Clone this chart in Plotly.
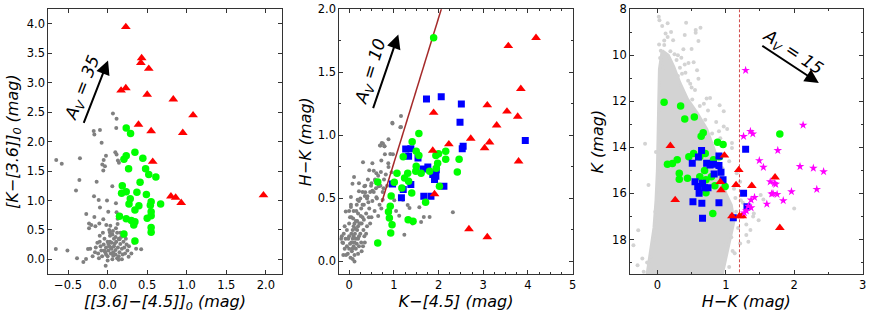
import plotly.graph_objects as go

# ---------------- Panel 1 : [K-[3.6]]0 vs [[3.6]-[4.5]]0 ----------------
p1_red_x = [0.23, 0.43, 0.42, 0.52, 0.17, 0.23, 0.50, 0.83, 1.08, 0.39, 0.55, 0.95, 0.57, 0.80, 0.86, 0.93, 1.97]
p1_red_y = [3.95, 3.42, 3.34, 3.24, 2.87, 2.91, 2.80, 2.72, 2.45, 2.29, 2.18, 2.15, 1.66, 1.07, 1.05, 0.96, 1.09]

p1_green_x = [0.235, 0.29, 0.345, 0.235, 0.206, 0.445, 0.265, 0.48, 0.52, 0.61, 0.41, 0.185, 0.235, 0.176,
              0.37, 0.49, 0.286, 0.27, 0.55, 0.67, 0.54, 0.395, 0.345, 0.55, 0.55, 0.50, 0.15, 0.235,
              0.30, 0.345, 0.33, 0.55, 0.55, 0.206, 0.345]
p1_green_y = [2.23, 2.14, 1.82, 1.76, 1.70, 1.72, 1.54, 1.54, 1.44, 1.40, 1.31, 1.25, 1.15, 1.125,
              1.14, 1.10, 1.03, 0.94, 0.98, 0.94, 0.92, 0.91, 0.84, 0.81, 0.74, 0.70, 0.73, 0.69,
              0.66, 0.64, 0.585, 0.54, 0.46, 0.43, 0.31]

p1_grey_x = [0.067, 0.113, -0.176, -0.097, -0.168, 0.109, -0.076, 0.097, 0.113, -0.021, -0.05, 0.13, 0.143,
             -0.067, -0.034, -0.055, -0.35, -0.65, -0.58, -0.357, -0.139, -0.40, 0.059, -0.172, -0.113,
             -0.008, 0.105, -0.097, -0.27, 0.008, 0.113, -0.168, 0.126, -0.055, -0.235, -0.206, -0.105,
             -0.155, -0.235, -0.017, 0.034, 0.126, 0.105, 0.067, 0.029,
             -0.655, -0.508, -0.387, -0.307, -0.273, -0.248, -0.22, -0.025, 0.424, 0.139, 0.265,
             -0.15, -0.12, -0.10, -0.08, -0.07, -0.05, -0.04, -0.03, -0.02, 0.00, 0.00, 0.01, 0.02, 0.03,
             0.04, 0.05, 0.05, 0.06, 0.07, 0.08, 0.08, 0.10, 0.10, 0.11, 0.12, 0.13, 0.14, 0.15, 0.16,
             0.17, 0.18, 0.19, 0.20, 0.21, 0.22, 0.24, -0.10, -0.13, 0.02, 0.06, -0.06, 0.12, 0.00,
             -0.02, 0.03, 0.09, 0.14, -0.09, 0.04, 0.07, 0.10, 0.16, 0.20, 0.25, -0.04, 0.18, -0.16, 0.23,
             -0.11, 0.01, 0.15, 0.27, 0.30, 0.33, -0.19, 0.36]
p1_grey_y = [2.48, 2.39, 2.18, 2.20, 2.12, 2.23, 1.98, 1.82, 1.78, 1.76, 1.69, 1.68, 1.64,
             1.61, 1.58, 1.51, 1.72, 1.69, 1.625, 1.35, 1.32, 1.17, 1.24, 1.07, 1.01,
             1.00, 0.955, 0.88, 0.77, 0.81, 0.80, 0.72, 0.69, 0.68, 0.61, 0.585, 0.61,
             0.56, 0.53, 0.585, 0.57, 0.60, 0.53, 0.48, 0.455,
             0.176, 0.148, 0.017, -0.045, 0.006, 0.176, 0.18, -0.108, 0.17, -0.006, 0.045,
             0.20, 0.10, 0.30, 0.15, 0.05, 0.25, 0.35, 0.12, 0.20, 0.05, 0.30, 0.15, 0.22, 0.40,
             0.10, 0.18, 0.28, 0.00, 0.12, 0.22, 0.35, 0.08, 0.16, 0.30, 0.45, 0.20, 0.05, 0.12, 0.26,
             0.38, 0.18, 0.08, 0.30, 0.20, 0.10, 0.25, 0.40, 0.28, 0.50, 0.42, 0.45, 0.02, -0.02,
             0.08, 0.30, 0.27, 0.35, 0.22, 0.20, 0.06, 0.38, 0.45, 0.40, 0.15, 0.15, 0.00, 0.12, 0.35,
             0.02, 0.26, 0.34, 0.22, 0.10, 0.28, 0.05, 0.18]

p1_arrow_tail = (-0.34, 2.19)
p1_arrow_head = (0.005, 3.38)
p1_label = "<i>A<sub>V</sub> = 35</i>"
p1_label_pos = (-0.31, 2.90)

# ---------------- Panel 2 : H-K vs K-[4.5] ----------------
p2_red_x = [4.18, 3.56, 3.84, 3.09, 3.53, 3.77, 1.89, 3.30, 2.72, 3.14, 3.03, 2.23, 1.87, 3.79, 1.91, 2.68, 3.09]
p2_red_y = [1.775, 1.71, 1.37, 1.24, 1.19, 1.15, 1.18, 1.08, 0.975, 0.945, 0.90, 0.93, 0.88, 0.795, 0.535, 0.257, 0.193]

p2_blue_x = [1.73, 2.06, 2.51, 2.48, 2.55, 2.53, 3.94, 1.265, 1.38, 1.33, 1.54, 1.65, 1.76, 1.95, 1.94,
             1.91, 1.38, 0.97, 1.21, 1.17, 1.67, 1.83, 2.12, 1.87]
p2_blue_y = [1.29, 1.306, 1.25, 1.105, 0.914, 0.895, 0.96, 0.893, 0.895, 0.834, 0.82, 0.734, 0.75, 0.728, 0.675,
             0.65, 0.61, 0.615, 0.57, 0.506, 0.517, 0.517, 0.596, 0.69]

p2_green_x = [1.89, 1.56, 1.41, 1.50, 1.56, 1.21, 2.16, 2.00, 1.94, 2.16, 2.46, 1.98, 1.95, 1.50, 1.61, 1.49,
              1.31, 1.07, 1.80, 2.42, 1.24, 1.33, 1.01, 0.64, 2.02, 1.18, 0.94, 1.40, 0.92, 0.88, 0.90,
              0.96, 0.93, 1.32, 1.43, 1.71, 0.64]
p2_green_y = [1.775, 1.015, 0.95, 0.874, 0.84, 0.83, 0.874, 0.855, 0.84, 0.81, 0.81, 0.78, 0.74, 0.755, 0.70, 0.715,
              0.70, 0.70, 0.715, 0.71, 0.662, 0.636, 0.628, 0.63, 0.596, 0.583, 0.52, 0.543, 0.437, 0.395, 0.344,
              0.291, 0.225, 0.33, 0.318, 0.469, 0.146]

p2_grey_x = [1.16, 0.966, 1.145, 0.88, 0.756, 0.70, 0.79, 0.98, 0.97, 1.16, 0.73, 0.69, 0.79, 0.92, 0.31, 0.52,
             0.876, 0.45, 0.71, 0.61, 0.82, 0.95, 0.58, 0.11, 0.075, 0.22, 0.34, 0.49, 0.66, 0.77, 0.22, 0.36,
             0.52, 0.04, 0.19, 0.41, 0.61, 0.75, 1.01, 1.20, 1.31, 1.35, 1.57, 0.04, -0.075, 1.12, 1.67, 1.80,
             2.32, 1.61, 1.235, 0.95, -0.135, -0.165,
             -0.15, -0.12, -0.10, -0.08, -0.05, -0.05, -0.03, 0.00, 0.00, 0.02, 0.03, 0.05, 0.05, 0.07, 0.08,
             0.10, 0.10, 0.12, 0.12, 0.13, 0.15, 0.15, 0.17, 0.18, 0.20, 0.20, 0.22, 0.23, 0.25, 0.25, 0.27,
             0.28, 0.30, 0.30, 0.32, 0.33, 0.35, 0.36, 0.38, 0.40, 0.40, 0.42, 0.45, 0.47, 0.50, 0.50, 0.52,
             0.55, 0.57, 0.60, 0.62, 0.65, 0.68, 0.70, 0.72, 0.75, 0.78, 0.80, 0.85, 0.88,
             0.05, 0.10, 0.15, 0.08, 0.18, 0.12, 0.20, 0.25, -0.02, 0.00, 0.06, 0.14, 0.22, 0.28, 0.10, 0.16,
             0.22, 0.30, 0.35, -0.10, -0.07, 0.04, 0.02, 0.08, 0.20, 0.27, 0.33, 0.38, 0.44, 0.47, 0.55, 0.58,
             -0.18, -0.13, 0.00, 0.09, 0.17, 0.26, 0.34, 0.43, 0.12, 0.31, 0.65, 0.72, 1.05, 1.42]
p2_grey_y = [1.155, 1.10, 1.065, 0.97, 0.935, 0.92, 0.914, 0.85, 1.094, 1.067, 0.94, 0.92, 0.914, 0.853, 0.787, 0.78,
             0.779, 0.723, 0.71, 0.70, 0.69, 0.707, 0.64, 0.67, 0.617, 0.62, 0.596, 0.60, 0.596, 0.58, 0.556, 0.548,
             0.56, 0.511, 0.49, 0.517, 0.51, 0.49, 0.485, 0.49, 0.448, 0.424, 0.43, 0.432, 0.397, 0.363, 0.352, 0.352,
             0.39, 0.313, 0.212, 0.305, 0.146, 0.20,
             0.15, 0.22, 0.10, 0.18, 0.25, 0.12, 0.06, 0.20, 0.30, 0.14, 0.03, 0.22, 0.35, 0.10, 0.18,
             0.28, 0.40, 0.05, 0.15, 0.22, 0.32, 0.10, 0.45, 0.25, 0.18, 0.38, 0.12, 0.30, 0.50, 0.22, 0.42,
             0.08, 0.35, 0.55, 0.25, 0.45, 0.15, 0.60, 0.38, 0.50, 0.28, 0.65, 0.42, 0.55, 0.35, 0.62, 0.48,
             0.72, 0.40, 0.58, 0.50, 0.68, 0.45, 0.60, 0.80, 0.55, 0.65, 0.85, 0.60, 0.75,
             0.15, 0.20, 0.18, 0.25, 0.32, 0.30, 0.28, 0.30, 0.18, 0.10, 0.08, 0.26, 0.20, 0.30, 0.12, 0.40,
             0.48, 0.45, 0.52, 0.28, 0.05, 0.45, 0.35, 0.02, 0.06, 0.15, 0.33, 0.22, 0.35, 0.30, 0.55, 0.65,
             0.18, 0.05, 0.40, 0.34, 0.14, 0.36, 0.20, 0.47, 0.00, 0.12, 0.36, 0.42, 0.40, 0.30]

p2_line_x = [0.73, 2.12]
p2_line_y = [0.47, 2.07]

p2_arrow_tail = (0.47, 1.147)
p2_arrow_head = (1.10, 1.80)
p2_label = "<i>A<sub>V</sub> = 10</i>"
p2_label_pos = (0.49, 1.50)

# ---------------- Panel 3 : K vs H-K ----------------
p3_star_x = [1.29, 2.13, 1.26, 1.36, 1.395, 1.76, 1.49, 1.55, 2.085, 2.28, 2.43, 1.65, 1.71, 1.69, 1.67,
             1.75, 1.96, 2.33, 1.42, 1.37, 1.84, 1.60, 1.33, 1.37, 1.30, 1.27, 1.73]
p3_star_y = [10.65, 13.03, 13.52, 13.30, 13.41, 14.13, 14.57, 14.86, 14.83, 14.90, 15.05, 15.49, 15.56, 16.00, 16.02,
             16.04, 15.92, 15.82, 16.17, 16.28, 16.31, 16.46, 16.55, 16.62, 16.75, 16.84, 15.60]

p3_green_x = [0.098, 0.34, 0.40, 0.54, 1.79, 0.67, 0.64, 0.88, 0.96, 0.147, 0.22, 0.29, 0.46, 0.53, 0.62, 0.70,
              0.82, 0.91, 0.32, 0.32, 0.44, 0.62, 0.69, 0.71, 0.79, 0.84, 0.99, 0.71, 0.81]
p3_green_y = [12.04, 12.20, 12.77, 12.68, 13.42, 13.36, 13.52, 13.77, 13.87, 14.73, 14.70, 14.54, 14.40, 14.26, 14.40, 14.26,
              14.54, 14.40, 15.12, 15.38, 15.34, 15.27, 15.00, 15.41, 15.27, 15.66, 15.70, 15.97, 16.87]

p3_blue_x = [1.29, 0.646, 0.60, 0.51, 0.72, 0.77, 0.82, 0.90, 0.90, 0.83, 0.93, 0.96, 0.55, 0.59, 0.66, 0.69,
             0.74, 0.61, 0.52, 0.65, 0.90, 1.26, 1.31, 1.11, 0.66]
p3_blue_y = [14.08, 14.13, 14.42, 14.69, 14.69, 14.76, 14.73, 14.79, 14.37, 15.15, 15.08, 15.41, 15.49, 15.70, 15.56, 15.75,
             15.75, 15.99, 16.36, 16.43, 16.40, 15.99, 16.58, 17.06, 17.08]

p3_red_x = [0.19, 0.98, 1.19, 1.15, 1.38, 1.72, 0.93, 0.92, 0.26, 1.79, 1.09, 1.20, 1.24]
p3_red_y = [13.93, 14.35, 14.98, 15.63, 15.67, 15.30, 15.86, 15.50, 16.28, 17.49, 16.98, 16.98, 16.98]

# envelope of the densely populated field-star region
p3_field_env_x = [0.07, 0.03, 0.02, 0.01, 0.00, -0.02, -0.05, -0.10, -0.15,
                  0.95, 1.00, 1.06, 1.12, 1.08, 1.00, 0.93, 0.82, 0.72, 0.58, 0.44, 0.33, 0.24, 0.16, 0.07]
p3_field_env_y = [9.8, 10.6, 12.0, 13.5, 15.0, 16.3, 17.5, 18.5, 19.5,
                  19.5, 18.8, 18.0, 17.2, 16.5, 16.0, 15.0, 14.0, 13.2, 12.5, 11.9, 11.2, 10.5, 10.0, 9.8]

p3_field_x = [0.02, 0.03, 0.15, 0.42, 0.07, 0.63, 0.56, 0.12, 0.20, 0.23, 0.10, 0.40, 0.025, 0.60, 0.56, 0.19,
              0.38, 0.50, 0.04, 0.455, 0.53, 0.33, 0.09, 0.58, 0.41, 0.60, 0.48, 0.72, 0.77, 0.91, 0.97, 0.74,
              0.51, -0.18, -0.13, -0.28, -0.35, -0.29, -0.22, -0.09, 0.97, 1.02, 0.90, 1.09, 1.09, 1.16, 1.21,
              1.51, 1.55, 2.00, 1.41, 1.48, 1.36, 1.21, 1.13, 1.30, 0.30, 0.28, 0.86, 0.92, 1.05, 1.25, 1.30,
              -0.05, -0.10, 1.00, 1.08, 0.68, 0.70, 0.55, 0.45, 0.36, 0.30, 0.25, 1.12, 1.28, 1.33, 1.40,
              -0.20, -0.15, 0.15, 0.10, 0.05, 0.35, 1.15, 1.18, 1.10, 1.22, 1.05, 0.95, 0.88, 0.85, 0.62,
              0.50, 0.40, -0.03, -0.06, -0.12, -0.02, 1.02, 1.14, 0.80]
p3_field_y = [8.32, 8.47, 8.61, 8.58, 8.73, 8.80, 8.90, 9.05, 8.99, 9.34, 9.35, 9.12, 9.53, 9.38, 9.02, 9.82,
              9.74, 9.72, 10.11, 10.33, 10.30, 10.54, 10.54, 10.65, 10.76, 11.02, 11.23, 11.87, 11.85, 12.17, 12.43, 12.40,
              11.92, 13.84, 15.63, 17.60, 18.25, 19.12, 18.83, 18.76, 13.09, 13.20, 13.30, 13.81, 14.03, 15.12, 15.49,
              16.07, 16.26, 16.65, 16.87, 17.16, 17.59, 18.17, 18.60, 17.35, 10.00, 10.20, 12.90, 13.60, 14.60, 16.40, 17.80,
              19.30, 18.90, 18.20, 17.90, 12.10, 12.80, 11.50, 11.10, 10.80, 10.90, 9.95, 15.80, 16.00, 18.10, 17.00,
              19.40, 19.00, 9.20, 9.55, 9.80, 10.10, 16.80, 17.50, 18.50, 16.30, 19.20, 14.90, 13.70, 14.30, 12.20,
              11.40, 10.40, 16.80, 18.00, 19.10, 14.20, 15.70, 16.20, 13.40]

p3_cut_x = [1.2, 1.2]
p3_cut_y = [8.0, 19.5]

p3_arrow_tail = (1.49, 9.50)
p3_arrow_head = (2.36, 11.20)
p3_label = "<i>A<sub>V</sub> = 15</i>"
p3_label_pos = (1.97, 9.88)

# ---------------- Build the figure ----------------
RED, GREEN, BLUE, MAG = "#ff0000", "#00ff00", "#0000ff", "#ff00ff"
GREY, LGREY = "#808080", "#d3d3d3"

fig = go.Figure()


def pts(x, y, xa, ya, color, symbol, size):
    fig.add_trace(go.Scatter(x=x, y=y, xaxis=xa, yaxis=ya, mode="markers",
                             marker=dict(color=color, symbol=symbol, size=size, line=dict(width=0)),
                             showlegend=False, hoverinfo="skip", cliponaxis=True))


# panel 1
pts(p1_grey_x, p1_grey_y, "x", "y", GREY, "circle", 4)
pts(p1_green_x, p1_green_y, "x", "y", GREEN, "circle", 7.5)
pts(p1_red_x, p1_red_y, "x", "y", RED, "triangle-up", 8.5)

# panel 2
pts(p2_grey_x, p2_grey_y, "x2", "y2", GREY, "circle", 4)
fig.add_trace(go.Scatter(x=p2_line_x, y=p2_line_y, xaxis="x2", yaxis="y2", mode="lines",
                         line=dict(color="#a52a2a", width=1.5), showlegend=False, hoverinfo="skip"))
pts(p2_blue_x, p2_blue_y, "x2", "y2", BLUE, "square", 7)
pts(p2_green_x, p2_green_y, "x2", "y2", GREEN, "circle", 7.5)
pts(p2_red_x, p2_red_y, "x2", "y2", RED, "triangle-up", 8.5)

# panel 3
fig.add_trace(go.Scatter(x=p3_field_env_x, y=p3_field_env_y, xaxis="x3", yaxis="y3", mode="lines",
                         fill="toself", fillcolor=LGREY, line=dict(width=3, color=LGREY),
                         showlegend=False, hoverinfo="skip"))
pts(p3_field_x, p3_field_y, "x3", "y3", LGREY, "circle", 4)
fig.add_trace(go.Scatter(x=p3_cut_x, y=p3_cut_y, xaxis="x3", yaxis="y3", mode="lines",
                         line=dict(color="#d24a4a", width=1, dash="3px,2px"), showlegend=False, hoverinfo="skip"))
pts(p3_green_x, p3_green_y, "x3", "y3", GREEN, "circle", 7.5)
pts(p3_blue_x, p3_blue_y, "x3", "y3", BLUE, "square", 7)
pts(p3_red_x, p3_red_y, "x3", "y3", RED, "triangle-up", 8.5)
pts(p3_star_x, p3_star_y, "x3", "y3", MAG, "star", 6.5)

FONT = "DejaVu Sans"
tickfont = dict(family=FONT, size=11.5, color="black")
titlefont = dict(family=FONT, size=16, color="black")


def axis(domain, rng, dtick, fmt, title, anchor, minor=None, standoff=4):
    d = dict(domain=domain, range=rng, dtick=dtick, tick0=0, tickformat=fmt,
             ticks="inside", ticklen=4, tickwidth=1, tickcolor="#333",
             showline=True, linecolor="#333", linewidth=1, mirror="ticks",
             showgrid=False, zeroline=False, tickfont=tickfont, automargin=False,
             title=dict(text=title, font=titlefont, standoff=standoff), anchor=anchor)
    if minor:
        d["minor"] = dict(ticks="inside", ticklen=2, tickwidth=1, tickcolor="#333", dtick=minor, tick0=0, showgrid=False)
    return d


YD = [0.1356, 0.9707]
fig.update_layout(
    width=872, height=317,
    margin=dict(l=0, r=0, t=0, b=0, autoexpand=False),
    paper_bgcolor="white", plot_bgcolor="white",
    xaxis=axis([0.0554, 0.3230], [-0.75, 2.2], 0.5, ".1f", "<i>[[3.6]−[4.5]]<sub>0</sub> (mag)</i>", "y", standoff=2),
    yaxis=axis(YD, [-0.25, 4.25], 0.5, ".1f", "<i>[K−[3.6]]<sub>0</sub> (mag)</i>", "x", standoff=4),
    xaxis2=axis([0.3891, 0.6568], [-0.22, 5.001], 1, "d", "<i>K−[4.5] (mag)</i>", "y2", minor=0.25, standoff=2),
    yaxis2=axis(YD, [-0.1, 2.001], 0.5, ".1f", "<i>H−K (mag)</i>", "x2", minor=0.25, standoff=2),
    xaxis3=axis([0.7225, 0.9893], [-0.4, 3.001], 1, "d", "<i>H−K (mag)</i>", "y3", minor=0.5, standoff=2),
    yaxis3=axis(YD, [19.5, 7.999], 2, "d", "<i>K (mag)</i>", "x3", minor=1, standoff=4),
)

annots = []
for (xa, ya, tail, head, lab, pos, ang) in [
    ("x", "y", p1_arrow_tail, p1_arrow_head, p1_label, p1_label_pos, -68.6),
    ("x2", "y2", p2_arrow_tail, p2_arrow_head, p2_label, p2_label_pos, -72.7),
    ("x3", "y3", p3_arrow_tail, p3_arrow_head, p3_label, p3_label_pos, 33.3),
]:
    annots.append(dict(x=head[0], y=head[1], ax=tail[0], ay=tail[1], xref=xa, yref=ya,
                       axref=xa, ayref=ya, showarrow=True, arrowhead=2, arrowsize=1.4,
                       arrowwidth=2, arrowcolor="black", text=" "))
    annots.append(dict(x=pos[0], y=pos[1], xref=xa, yref=ya, showarrow=False, text=lab,
                       textangle=ang, font=dict(family=FONT, size=17, color="black")))
fig.update_layout(annotations=annots)

fig.write_html("out.html", config={"displayModeBar": False},
               post_script="document.body.style.margin='0';document.body.style.overflow='hidden';")
